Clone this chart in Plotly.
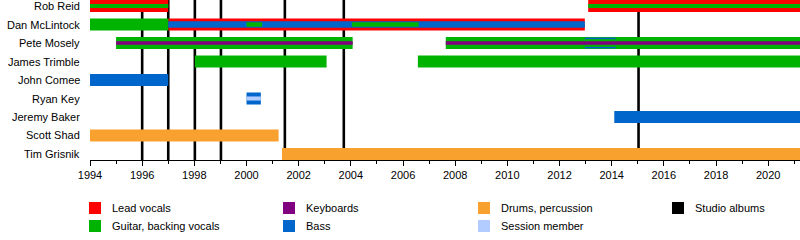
import plotly.graph_objects as go

# ---------------- data ----------------
members = ["Rob Reid", "Dan McLintock", "Pete Mosely", "James Trimble", "John Comee",
           "Ryan Key", "Jeremy Baker", "Scott Shad", "Tim Grisnik"]
END = 2021.22  # "present" edge of the chart

# full-height bars
lead_members = ["Rob Reid", "Rob Reid", "Dan McLintock"]
lead_start = [1994.0, 2013.1, 1997.0]
lead_end = [1997.0, END, 2012.97]

guitar_members = ["Dan McLintock", "Pete Mosely", "Pete Mosely", "James Trimble", "James Trimble"]
guitar_start = [1994.0, 1995.0, 2007.64, 1998.02, 2006.57]
guitar_end = [1997.0, 2004.07, END, 2003.07, END]

bass_members = ["John Comee", "Ryan Key", "Jeremy Baker"]
bass_start = [1994.0, 2000.0, 2014.1]
bass_end = [1997.0, 2000.55, END]

drums_members = ["Scott Shad", "Tim Grisnik"]
drums_start = [1994.0, 2001.36]
drums_end = [2001.23, END]

# inner stripes
bass2_members = ["Dan McLintock", "Pete Mosely"]
bass2_start = [1997.0, 2012.97]
bass2_end = [2012.97, 2014.15]

guitar2_members = ["Rob Reid", "Rob Reid", "Dan McLintock", "Dan McLintock", "Pete Mosely"]
guitar2_start = [1994.0, 2013.1, 2000.0, 2004.04, 2012.97]
guitar2_end = [1997.0, END, 2000.6, 2006.6, 2014.15]

keys_members = ["Pete Mosely", "Pete Mosely"]
keys_start = [1995.0, 2007.64]
keys_end = [2004.07, END]

session_members = ["Ryan Key"]
session_start = [2000.0]
session_end = [2000.55]

albums = [1996.0, 1997.0, 1998.02, 1999.02, 2001.47, 2003.73, 2015.03]

legend_labels = ["Lead vocals", "Guitar, backing vocals", "Keyboards", "Bass",
                 "Drums, percussion", "Session member", "Studio albums"]

# ---------------- styles ----------------
C_RED = "#FF0000"
C_GREEN = "#00B300"
C_PURPLE = "#800080"
C_BLUE = "#0066CC"
C_ORANGE = "#F9A12E"
C_LBLUE = "#B3CCFF"
C_BLACK = "#000000"
FONT = "Liberation Sans, Arial, sans-serif"

idx = {m: i for i, m in enumerate(members)}

fig = go.Figure()


def add_bars(mem, st, en, color, width, name):
    fig.add_trace(go.Bar(
        orientation="h",
        y=[idx[m] for m in mem],
        base=st,
        x=[e - s for s, e in zip(st, en)],
        width=[width] * len(mem),
        marker=dict(color=color, line=dict(width=0)),
        name=name, showlegend=False, hoverinfo="skip",
    ))


FULL = 0.65
add_bars(lead_members, lead_start, lead_end, C_RED, FULL, "Lead vocals")
add_bars(guitar_members, guitar_start, guitar_end, C_GREEN, FULL, "Guitar")
add_bars(bass_members, bass_start, bass_end, C_BLUE, FULL, "Bass")
add_bars(drums_members, drums_start, drums_end, C_ORANGE, FULL, "Drums")
# inner layers
add_bars(bass2_members[:1], bass2_start[:1], bass2_end[:1], C_BLUE, 0.36, "Bass")
add_bars(bass2_members[1:], bass2_start[1:], bass2_end[1:], C_BLUE, 0.58, "Bass")
add_bars(guitar2_members[:2], guitar2_start[:2], guitar2_end[:2], C_GREEN, 0.22, "Guitar")
add_bars(guitar2_members[2:4], guitar2_start[2:4], guitar2_end[2:4], C_GREEN, 0.24, "Guitar")
add_bars(guitar2_members[4:], guitar2_start[4:], guitar2_end[4:], C_GREEN, 0.42, "Guitar")
add_bars(keys_members, keys_start, keys_end, C_PURPLE, 0.19, "Keyboards")
add_bars(session_members, session_start, session_end, C_LBLUE, 0.22, "Session")

shapes = []
for a in albums:
    shapes.append(dict(type="line", xref="x", yref="paper", x0=a, x1=a, y0=0, y1=1,
                       line=dict(color=C_BLACK, width=2.6), layer="below"))

annotations = []
# member names (as annotations so the top one is not dropped)
for m in members:
    annotations.append(dict(xref="paper", yref="y", x=0, y=idx[m], text=m,
                            showarrow=False, xanchor="right", yanchor="middle",
                            xshift=-8, font=dict(family=FONT, size=11, color="#000")))

# legend drawn manually (paper coords: plot spans x 90..800px, y 0..160px)
PW, PH, PL = 710.0, 160.0, 90.0
legend_colors = [C_RED, C_GREEN, C_PURPLE, C_BLUE, C_ORANGE, C_LBLUE, C_BLACK]
legend_pos = [(89, 208), (89, 226), (283, 208), (283, 226), (478, 208), (478, 226), (672, 208)]
for lab, col, (px, py) in zip(legend_labels, legend_colors, legend_pos):
    shapes.append(dict(type="rect", xref="paper", yref="paper",
                       x0=(px - PL) / PW, x1=(px + 12 - PL) / PW,
                       y0=(PH - (py + 6)) / PH, y1=(PH - (py - 6)) / PH,
                       fillcolor=col, line=dict(width=0)))
    annotations.append(dict(xref="paper", yref="paper", x=(px + 21 - PL) / PW,
                            y=(PH - py) / PH, text=lab, showarrow=False,
                            xanchor="left", yanchor="middle",
                            font=dict(family=FONT, size=11, color="#000")))

fig.update_layout(
    width=800, height=240,
    margin=dict(l=90, r=0, t=0, b=80),
    barmode="overlay",
    plot_bgcolor="white", paper_bgcolor="white",
    font=dict(family=FONT, size=11, color="#000"),
    shapes=shapes, annotations=annotations,
    showlegend=False,
    xaxis=dict(range=[1994, END], tickmode="linear", tick0=1994, dtick=2,
               ticks="outside", ticklen=5, tickwidth=1, tickcolor="#000",
               showline=True, linecolor="#000", linewidth=1,
               showgrid=False, zeroline=False,
               minor=dict(dtick=1, tick0=1994, ticks="outside", ticklen=3,
                          tickcolor="#000", showgrid=False),
               tickfont=dict(size=11, family=FONT, color="#000")),
    yaxis=dict(range=[len(members) - 1 + 0.325, -0.325],
               showticklabels=False,
               showgrid=False, zeroline=False, showline=False, ticks=""),
)

fig.write_html("out.html")
